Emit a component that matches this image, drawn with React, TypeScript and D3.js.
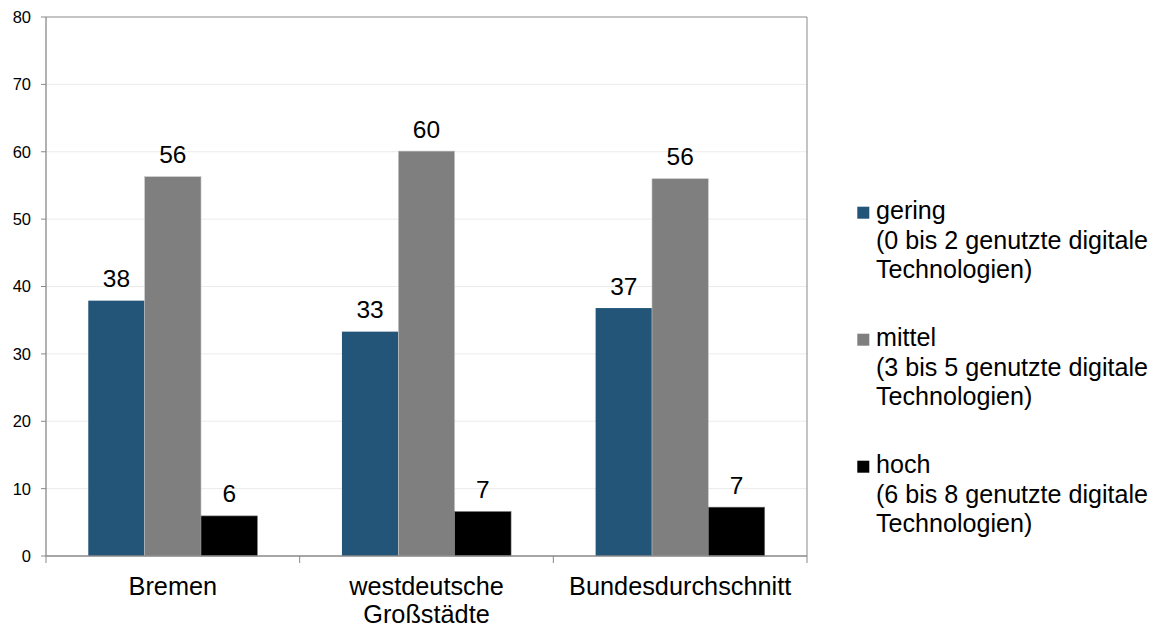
import React from "react";
import * as d3 from "d3";

const categories: string[][] = [["Bremen"], ["westdeutsche", "Großstädte"], ["Bundesdurchschnitt"]];
const seriesNames = ["gering", "mittel", "hoch"];
const seriesSub = [
  "(0 bis 2 genutzte digitale",
  "(3 bis 5 genutzte digitale",
  "(6 bis 8 genutzte digitale",
];
const seriesSub2 = "Technologien)";
const geringValues = [37.9, 33.3, 36.8];
const mittelValues = [56.3, 60.1, 56.0];
const hochValues = [5.95, 6.6, 7.25];
const valueLabels = [
  ["38", "33", "37"],
  ["56", "60", "56"],
  ["6", "7", "7"],
];
const yTicks = [0, 10, 20, 30, 40, 50, 60, 70, 80];
const colors = ["#235579", "#7f7f7f", "#000000"];

const W = 1158;
const H = 626;
const left = 46;
const right = 807;
const top = 17;
const bottom = 556;
const FONT = "'Liberation Sans', Arial, sans-serif";

export default function App() {
  const series = [geringValues, mittelValues, hochValues];
  const x = d3
    .scaleBand<number>()
    .domain(d3.range(categories.length))
    .range([left, right])
    .padding(0);
  const xi = d3
    .scaleBand<number>()
    .domain(d3.range(seriesNames.length))
    .range([0, x.bandwidth()])
    .paddingInner(0)
    .paddingOuter(0.75);
  const y = d3.scaleLinear().domain([0, 80]).range([bottom, top]);
  const boundaries = d3.range(categories.length + 1).map((i) => left + i * x.step());

  return (
    <svg
      width={W}
      height={H}
      style={{ position: "absolute", left: 0, top: 0, background: "#fff" }}
      fontFamily={FONT}
    >
      <rect x={0} y={0} width={W} height={H} fill="#fff" />
      {yTicks.slice(1, -1).map((t) => (
        <line key={t} x1={left} x2={right} y1={y(t)} y2={y(t)} stroke="#ebebeb" strokeWidth={1} />
      ))}
      {series.map((vals, s) =>
        vals.map((v, c) => (
          <rect
            key={`${s}-${c}`}
            x={(x(c) as number) + (xi(s) as number)}
            y={y(v)}
            width={xi.bandwidth()}
            height={y(0) - y(v)}
            fill={colors[s]}
            stroke={s === 1 ? "#c8c8c8" : s === 2 ? "#777" : "none"}
            strokeWidth={0.6}
          />
        ))
      )}
      {series.map((vals, s) =>
        vals.map((v, c) => (
          <text
            key={`l${s}-${c}`}
            x={(x(c) as number) + (xi(s) as number) + xi.bandwidth() / 2}
            y={y(v) - 13.5}
            textAnchor="middle"
            fontSize={24.5}
            fill="#000"
          >
            {valueLabels[s][c]}
          </text>
        ))
      )}
      <line x1={left} x2={right} y1={top} y2={top} stroke="#898989" strokeWidth={1} />
      <line x1={right} x2={right} y1={top} y2={bottom} stroke="#898989" strokeWidth={1} />
      <line x1={left} x2={left} y1={top} y2={bottom} stroke="#898989" strokeWidth={1.3} />
      <line x1={left} x2={right} y1={bottom} y2={bottom} stroke="#898989" strokeWidth={1.3} />
      {yTicks.map((t) => (
        <g key={`yt${t}`}>
          <line x1={left - 5} x2={left} y1={y(t)} y2={y(t)} stroke="#898989" strokeWidth={1} />
          <text x={31} y={y(t)} dy="0.36em" textAnchor="end" fontSize={16.5} fill="#000">
            {t}
          </text>
        </g>
      ))}
      {boundaries.map((b, i) => (
        <line key={`xt${i}`} x1={b} x2={b} y1={bottom} y2={bottom + 7} stroke="#898989" strokeWidth={1} />
      ))}
      {categories.map((lines, c) => (
        <text
          key={`c${c}`}
          x={(x(c) as number) + x.bandwidth() / 2}
          y={595}
          textAnchor="middle"
          fontSize={25.3}
          fill="#000"
        >
          {lines.map((ln, k) => (
            <tspan key={k} x={(x(c) as number) + x.bandwidth() / 2} dy={k === 0 ? 0 : 27.5}>
              {ln}
            </tspan>
          ))}
        </text>
      ))}
      {seriesNames.map((name, s) => {
        const by = 219.3 + s * 127;
        return (
          <g key={`lg${s}`}>
            <rect x={857.3} y={by - 12.6} width={12} height={12} fill={colors[s]} />
            <text x={876} y={by} fontSize={25.1} fill="#000">
              {name}
            </text>
            <text x={876} y={by + 29.5} fontSize={25.1} fill="#000">
              {seriesSub[s]}
            </text>
            <text x={876} y={by + 59} fontSize={25.1} fill="#000">
              {seriesSub2}
            </text>
          </g>
        );
      })}
    </svg>
  );
}
